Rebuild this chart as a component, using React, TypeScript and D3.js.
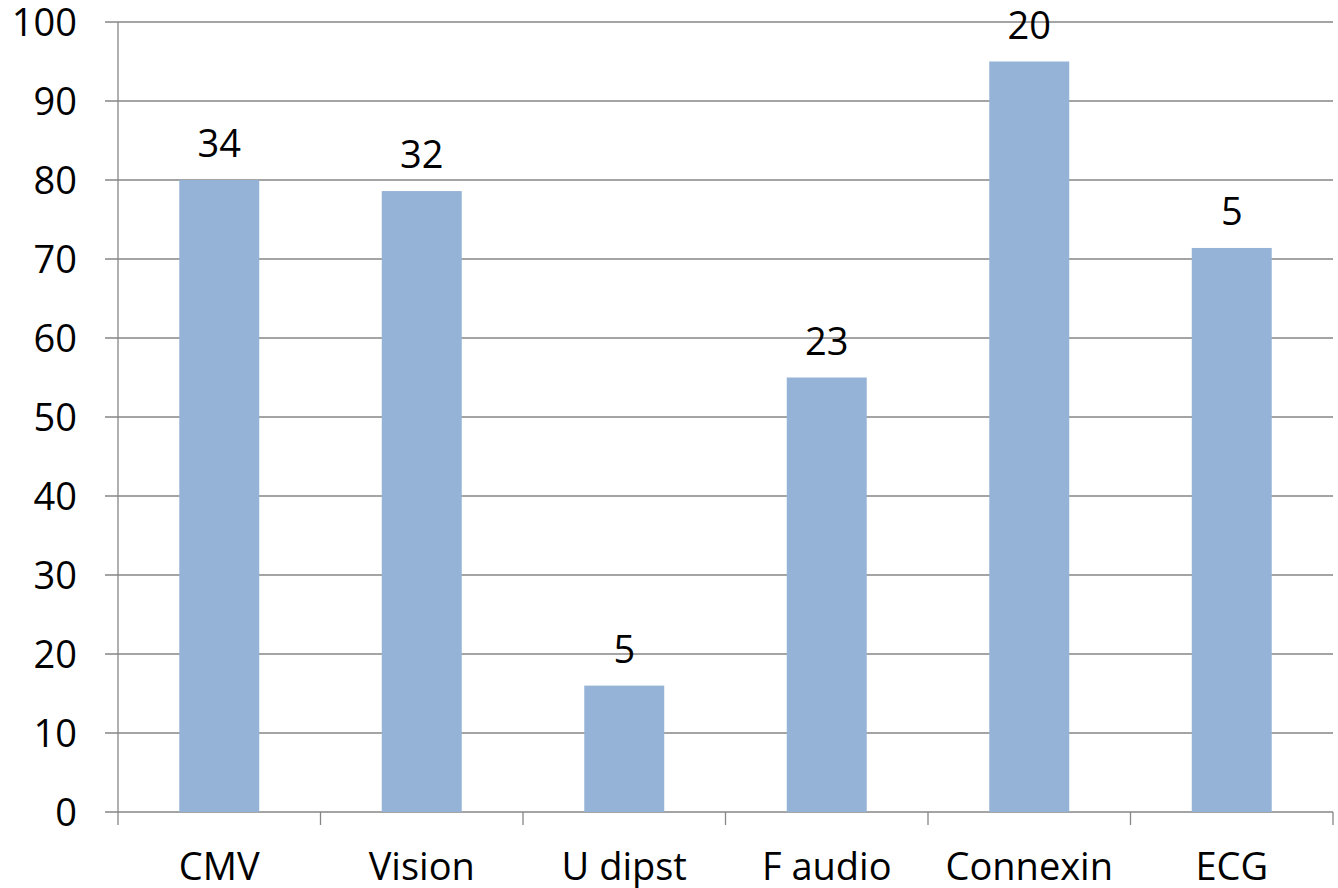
import React from "react";
import * as d3 from "d3";

const categories = ["CMV", "Vision", "U dipst", "F audio", "Connexin", "ECG"];
const values = [80, 78.6, 16, 55, 95, 71.4];
const barLabels = ["34", "32", "5", "23", "20", "5"];
const yTicks = [0, 10, 20, 30, 40, 50, 60, 70, 80, 90, 100];

const W = 1338;
const H = 888;
const left = 118;
const right = 1333;
const top = 22;
const bottom = 812;
const FONT = "'Open Sans', sans-serif";

export default function App() {
  const x = d3.scaleBand<string>().domain(categories).range([left, right]).paddingInner(0.605).paddingOuter(0.3025);
  const y = d3.scaleLinear().domain([0, 100]).range([bottom, top]);
  const band = (right - left) / categories.length;
  return (
    <svg width={W} height={H} style={{ position: "absolute", left: 0, top: 0 }}>
      <rect x={0} y={0} width={W} height={H} fill="#fff" />
      {yTicks.map((t) => (
        <g key={t}>
          <line x1={left - 13} x2={right} y1={y(t)} y2={y(t)} stroke="#868686" strokeWidth={1.3} />
          <text x={77} y={y(t)} dy="0.36em" textAnchor="end" fontFamily={FONT} fontSize={38} fill="#000">
            {t}
          </text>
        </g>
      ))}
      <line x1={left} x2={left} y1={top} y2={bottom + 13} stroke="#868686" strokeWidth={1.3} />
      {categories.map((c, i) => (
        <line key={"t" + c} x1={left + band * (i + 1)} x2={left + band * (i + 1)} y1={bottom} y2={bottom + 13} stroke="#868686" strokeWidth={1.3} />
      ))}
      {categories.map((c, i) => (
        <g key={c}>
          <rect x={x(c)!} y={y(values[i])} width={x.bandwidth()} height={bottom - y(values[i])} fill="#95B3D7" />
          <text x={x(c)! + x.bandwidth() / 2} y={y(values[i]) - 23} textAnchor="middle" fontFamily={FONT} fontSize={38} fill="#000">
            {barLabels[i]}
          </text>
          <text x={x(c)! + x.bandwidth() / 2} y={880} textAnchor="middle" fontFamily={FONT} fontSize={38} fill="#000">
            {c}
          </text>
        </g>
      ))}
    </svg>
  );
}
